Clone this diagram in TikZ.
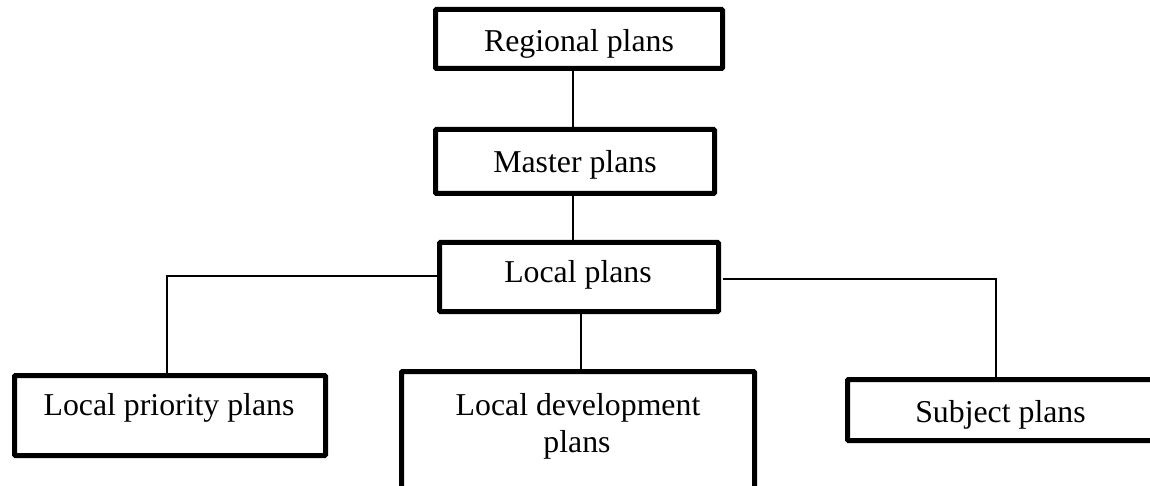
\documentclass[tikz,border=0pt]{standalone}
\usepackage{fontspec}
\setmainfont{Liberation Serif}
\begin{document}
\begin{tikzpicture}[x=1pt,y=-1pt,
  planbox/.style={draw=black,line width=5pt,rounded corners=1pt,rectangle,inner sep=0pt,fill=white},
  link/.style={draw=black,line width=2pt},
  lbl/.style={anchor=base,inner sep=0pt,font=\fontsize{31.8pt}{37pt}\selectfont,align=center}]
\useasboundingbox (0,0) rectangle (1150,486);
\clip (0,0) rectangle (1150,486);
% boxes
\node[planbox,minimum width=287pt,minimum height=59pt] (R) at (579,39) {};
\node[planbox,minimum width=279pt,minimum height=64pt] (M) at (575,161.5) {};
\node[planbox,minimum width=279pt,minimum height=69pt] (L) at (579,277) {};
\node[planbox,minimum width=311pt,minimum height=80pt] (LP) at (170,415.5) {};
\node[planbox,minimum width=353pt,minimum height=120pt] (LD) at (578,431.5) {};
\node[planbox,minimum width=320pt,minimum height=61pt] (S) at (1007.5,410) {};
% texts
\node[lbl] (tR) at (579,52) {Regional plans};
\node[lbl] (tM) at (575,173) {Master plans};
\node[lbl] (tL) at (578,282) {Local plans};
\node[lbl] (tLP) at (169,415) {Local priority plans};
\node[lbl] (tLD) at (578,415) {Local development};
\node[lbl] (tLD2) at (577,452) {plans};
\node[lbl] (tS) at (1000.5,422) {Subject plans};
% helper coordinates
\coordinate (c573) at (573,0);
\coordinate (c581) at (581,0);
\coordinate (cleft) at (167,276);
\coordinate (cright) at (996,279);
\coordinate (rstart) at (723,279);
% connectors
\draw[link] (R.south -| c573) -- (M.north -| c573);
\draw[link] (M.south -| c573) -- (L.north -| c573);
\draw[link] (L.south -| c581) -- (LD.north -| c581);
\draw[link] (L.west |- cleft) -- (cleft) -- (LP.north -| cleft);
\draw[link] (rstart) -- (cright) -- (S.north -| cright);
\end{tikzpicture}
\end{document}
